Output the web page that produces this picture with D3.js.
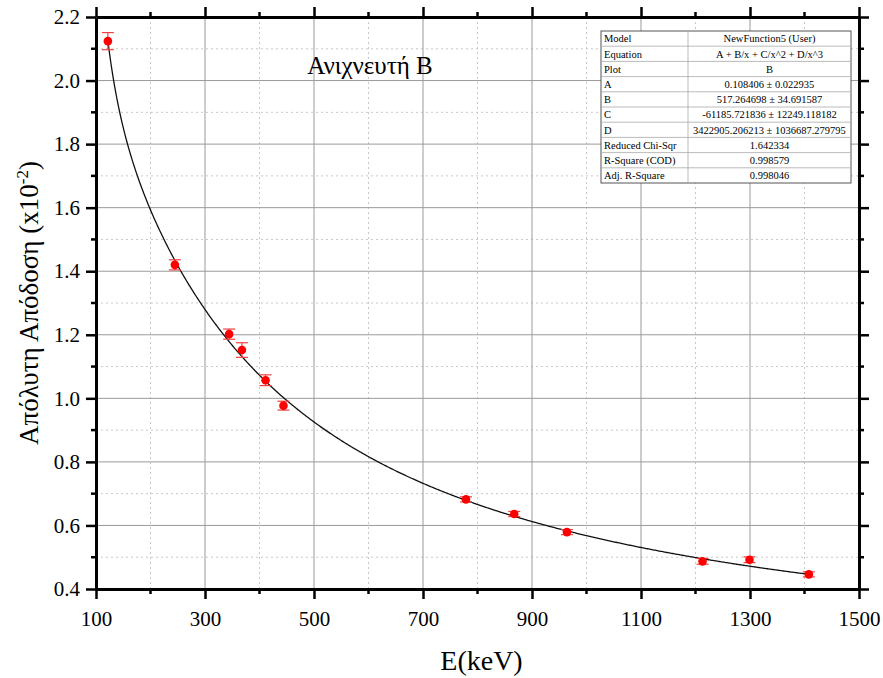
<!DOCTYPE html>
<html>
<head>
<meta charset="utf-8">
<script src="https://cdn.jsdelivr.net/npm/d3@7"></script>
<style>
  body { margin: 0; background: #fff; }
</style>
</head>
<body>
<script>
const energies = [121.78, 244.7, 344.28, 367.79, 411.1, 444.0, 778.9, 867.4, 964.1, 1212.9, 1299.1, 1408.0];
const efficiency = [2.124, 1.42, 1.202, 1.152, 1.057, 0.977, 0.682, 0.636, 0.579, 0.487, 0.492, 0.446];
const errors = [0.027, 0.016, 0.016, 0.023, 0.017, 0.014, 0.008, 0.008, 0.008, 0.009, 0.009, 0.008];
const xTicks = [100, 300, 500, 700, 900, 1100, 1300, 1500];
const yTicks = [0.4, 0.6, 0.8, 1.0, 1.2, 1.4, 1.6, 1.8, 2.0, 2.2];
// fit parameters A, B, C, D (from the table)
const fitParams = [0.108406, 517.264698, -61185.721836, 3422905.206213];
const tableLabels = ["Model", "Equation", "Plot", "A", "B", "C", "D", "Reduced Chi-Sqr", "R-Square (COD)", "Adj. R-Square"];
const tableValues = ["NewFunction5 (User)", "A + B/x + C/x^2 + D/x^3", "B", "0.108406 \u00b1 0.022935",
  "517.264698 \u00b1 34.691587", "-61185.721836 \u00b1 12249.118182", "3422905.206213 \u00b1 1036687.279795",
  "1.642334", "0.998579", "0.998046"];

const W = 883, H = 678;
const m = { left: 96, right: 24, top: 17, bottom: 89 };
const serif = "Times New Roman, Times, Liberation Serif, Tinos, DejaVu Serif, Noto Serif, serif";

const svg = d3.select("body").append("svg").attr("width", W).attr("height", H)
  .style("font-family", serif);

const x = d3.scaleLinear().domain([100, 1500]).range([m.left, W - m.right]);
const y = d3.scaleLinear().domain([0.4, 2.2]).range([H - m.bottom, m.top]);

const minorX = d3.range(200, 1500, 200);
const minorY = d3.range(0.5, 2.2, 0.2).map(v => +v.toFixed(1));

// minor grid
svg.append("g").selectAll("line.mx").data(minorX).enter().append("line")
  .attr("x1", d => x(d)).attr("x2", d => x(d)).attr("y1", y(0.4)).attr("y2", y(2.2))
  .attr("stroke", "#c8c8c8").attr("stroke-dasharray", "2,3").attr("stroke-width", 1);
svg.append("g").selectAll("line.my").data(minorY).enter().append("line")
  .attr("x1", x(100)).attr("x2", x(1500)).attr("y1", d => y(d)).attr("y2", d => y(d))
  .attr("stroke", "#c8c8c8").attr("stroke-dasharray", "2,3").attr("stroke-width", 1);

// major grid
svg.append("g").selectAll("line").data(xTicks.slice(1, -1)).enter().append("line")
  .attr("x1", d => x(d)).attr("x2", d => x(d)).attr("y1", y(0.4)).attr("y2", y(2.2))
  .attr("stroke", "#9a9a9a").attr("stroke-width", 1);
svg.append("g").selectAll("line").data(yTicks.slice(1, -1)).enter().append("line")
  .attr("x1", x(100)).attr("x2", x(1500)).attr("y1", d => y(d)).attr("y2", d => y(d))
  .attr("stroke", "#9a9a9a").attr("stroke-width", 1);

// fit curve
const curveX = d3.range(energies[0], energies[energies.length - 1] + 1, 2);
const fit = v => fitParams[0] + fitParams[1] / v + fitParams[2] / (v * v) + fitParams[3] / (v * v * v);
svg.append("path")
  .datum(curveX)
  .attr("fill", "none")
  .attr("stroke", "#111")
  .attr("stroke-width", 1.3)
  .attr("d", d3.line().x(d => x(d)).y(d => y(fit(d))));

// error bars and points
const pts = svg.append("g").selectAll("g").data(energies).enter().append("g");
pts.append("line")
  .attr("x1", d => x(d)).attr("x2", d => x(d))
  .attr("y1", (d, i) => y(efficiency[i] - errors[i])).attr("y2", (d, i) => y(efficiency[i] + errors[i]))
  .attr("stroke", "#f04040").attr("stroke-width", 1.2);
[-1, 1].forEach(s => {
  pts.append("line")
    .attr("x1", d => x(d) - 6).attr("x2", d => x(d) + 6)
    .attr("y1", (d, i) => y(efficiency[i] + s * errors[i])).attr("y2", (d, i) => y(efficiency[i] + s * errors[i]))
    .attr("stroke", "#f04040").attr("stroke-width", 1.2);
});
pts.append("circle")
  .attr("cx", d => x(d)).attr("cy", (d, i) => y(efficiency[i]))
  .attr("r", 4.3).attr("fill", "#ff0000");

// axes (frame with outward ticks)
function styleAxis(g) {
  g.attr("font-family", null).style("font-family", serif);
  g.select(".domain").attr("stroke", "#000").attr("stroke-width", 3);
  g.selectAll(".tick line").attr("stroke", "#000").attr("stroke-width", 2.5);
}
const axBottom = svg.append("g").attr("transform", `translate(0,${y(0.4)})`)
  .call(d3.axisBottom(x).tickValues(xTicks).tickSize(10).tickSizeOuter(0).tickPadding(12).tickFormat(d3.format("d")));
const axTop = svg.append("g").attr("transform", `translate(0,${y(2.2)})`)
  .call(d3.axisTop(x).tickValues(xTicks).tickSize(10).tickSizeOuter(0).tickFormat(""));
const axLeft = svg.append("g").attr("transform", `translate(${x(100)},0)`)
  .call(d3.axisLeft(y).tickValues(yTicks).tickSize(10).tickSizeOuter(0).tickPadding(6).tickFormat(d3.format(".1f")));
const axRight = svg.append("g").attr("transform", `translate(${x(1500)},0)`)
  .call(d3.axisRight(y).tickValues(yTicks).tickSize(10).tickSizeOuter(0).tickFormat(""));
[axBottom, axTop, axLeft, axRight].forEach(styleAxis);
axBottom.selectAll("text").attr("font-size", 21).attr("fill", "#000");
axLeft.selectAll("text").attr("font-size", 21).attr("fill", "#000");

// minor ticks
const minorTick = (g, vals, pos, len, vertical) => {
  g.selectAll(null).data(vals).enter().append("line")
    .attr("x1", d => vertical ? pos : x(d)).attr("x2", d => vertical ? pos + len : x(d))
    .attr("y1", d => vertical ? y(d) : pos).attr("y2", d => vertical ? y(d) : pos + len)
    .attr("stroke", "#000").attr("stroke-width", 2.5);
};
const mt = svg.append("g");
minorTick(mt, minorX, y(0.4), 5, false);
minorTick(mt, minorX, y(2.2), -5, false);
minorTick(mt, minorY, x(100), -5, true);
minorTick(mt, minorY, x(1500), 5, true);

// labels
svg.append("text").attr("x", (x(100) + x(1500)) / 2 + 4).attr("y", 670)
  .attr("text-anchor", "middle").attr("font-size", 28).text("E(keV)");
const yl = svg.append("text")
  .attr("transform", `translate(38,${(y(0.4) + y(2.2)) / 2}) rotate(-90)`)
  .attr("text-anchor", "middle").attr("font-size", 27);
yl.append("tspan").text("Απόλυτη Απόδοση (x10");
yl.append("tspan").attr("dy", -10).attr("font-size", 17).text("-2");
yl.append("tspan").attr("dy", 10).text(")");

svg.append("text").attr("x", 370).attr("y", 74).attr("text-anchor", "middle")
  .attr("font-size", 25).text("Ανιχνευτή Β");

// fit table
const tX = 601, tY = 31, rowH = 15.2, col1 = 87, tW = 250;
const table = svg.append("g");
table.append("rect").attr("x", tX).attr("y", tY).attr("width", tW).attr("height", rowH * tableLabels.length)
  .attr("fill", "#fff").attr("stroke", "#555").attr("stroke-width", 1);
table.selectAll("line.r").data(d3.range(1, tableLabels.length)).enter().append("line")
  .attr("x1", tX).attr("x2", tX + tW).attr("y1", d => tY + d * rowH).attr("y2", d => tY + d * rowH)
  .attr("stroke", "#aaa").attr("stroke-width", 0.8);
table.append("line").attr("x1", tX + col1).attr("x2", tX + col1).attr("y1", tY).attr("y2", tY + rowH * tableLabels.length)
  .attr("stroke", "#aaa").attr("stroke-width", 0.8);
table.selectAll("text.l").data(tableLabels).enter().append("text")
  .attr("x", tX + 3).attr("y", (d, i) => tY + i * rowH + 11.3).attr("font-size", 10.5).text(d => d);
table.selectAll("text.v").data(tableValues).enter().append("text")
  .attr("x", tX + col1 + (tW - col1) / 2).attr("y", (d, i) => tY + i * rowH + 11.3)
  .attr("text-anchor", "middle").attr("font-size", 10.5).text(d => d);
</script>
</body>
</html>
